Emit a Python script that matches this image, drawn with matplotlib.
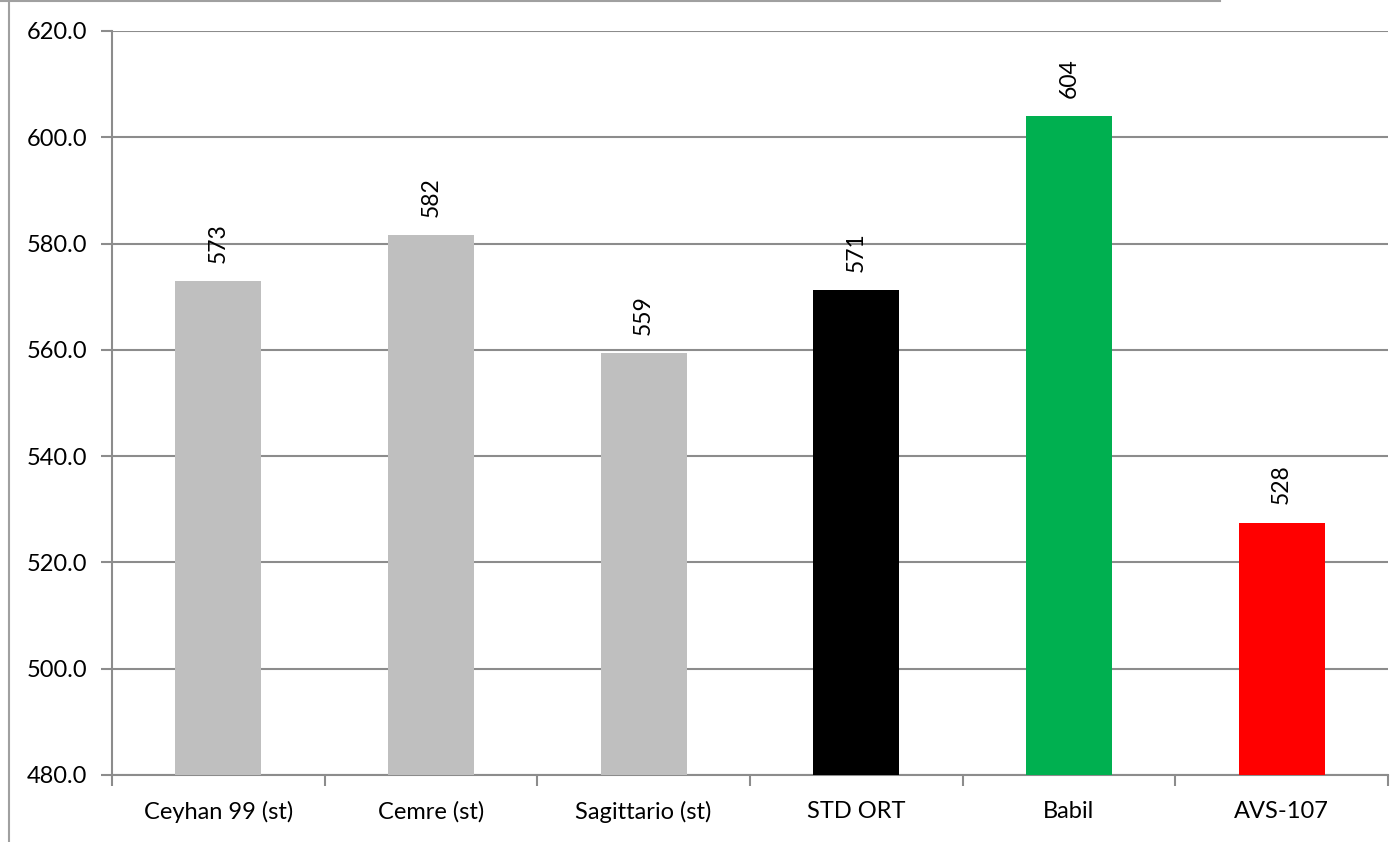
import matplotlib
matplotlib.use("Agg")
import matplotlib.pyplot as plt
from matplotlib.lines import Line2D
import numpy as np

categories = ["Ceyhan 99 (st)", "Cemre (st)", "Sagittario (st)", "STD ORT", "Babil", "AVS-107"]
values = [573.0, 581.6, 559.4, 571.3, 604.0, 527.5]
labels = ["573", "582", "559", "571", "604", "528"]
colors = ["#BFBFBF", "#BFBFBF", "#BFBFBF", "#000000", "#00B050", "#FF0000"]
yticks = np.arange(480, 621, 20)

plt.rcParams['font.family'] = ['Lato', 'DejaVu Sans']
grid_c = "#8C8C8C"

fig = plt.figure(figsize=(14, 8.42), dpi=100)
ax = fig.add_axes([0.08, 0.0796, 0.9114, 0.8836])

x = np.arange(len(categories))
ax.bar(x, values, width=0.405, color=colors, zorder=3)
for xi, v, lab in zip(x, values, labels):
    ax.annotate(lab, (xi, v), xytext=(0, 13), textcoords="offset points",
                rotation=90, ha="center", va="bottom", fontsize=16.5)

ax.set_ylim(480, 620)
ax.set_xlim(-0.5, len(categories) - 0.5)
ax.set_yticks(yticks)
ax.set_yticklabels([f"{t:.1f}" for t in yticks], fontsize=17)
ax.set_xticks(x)
ax.set_xticklabels(categories, fontsize=17)
ax.tick_params(axis="x", which="major", length=0, pad=19)
ax.set_xticks(np.arange(-0.5, len(categories), 1), minor=True)
ax.tick_params(axis="x", which="minor", length=8, width=1.5, color=grid_c)
ax.tick_params(axis="y", length=8, width=1.5, color=grid_c, pad=10)
ax.yaxis.grid(True, color=grid_c, linewidth=1.5, zorder=0)
ax.set_axisbelow(True)
for s in ["top", "right"]:
    ax.spines[s].set_visible(False)
for s in ["left", "bottom"]:
    ax.spines[s].set_color(grid_c)
    ax.spines[s].set_linewidth(1.5)

# outer chart frame (partially cropped in the original)
fig.add_artist(Line2D([9 / 1400, 9 / 1400], [0, 1 - 1 / 842], transform=fig.transFigure, color="#A0A0A0", lw=1.5))
fig.add_artist(Line2D([0, 1220 / 1400], [1 - 1 / 842, 1 - 1 / 842], transform=fig.transFigure, color="#A0A0A0", lw=1.5))

fig.savefig("out.png", dpi=100)
